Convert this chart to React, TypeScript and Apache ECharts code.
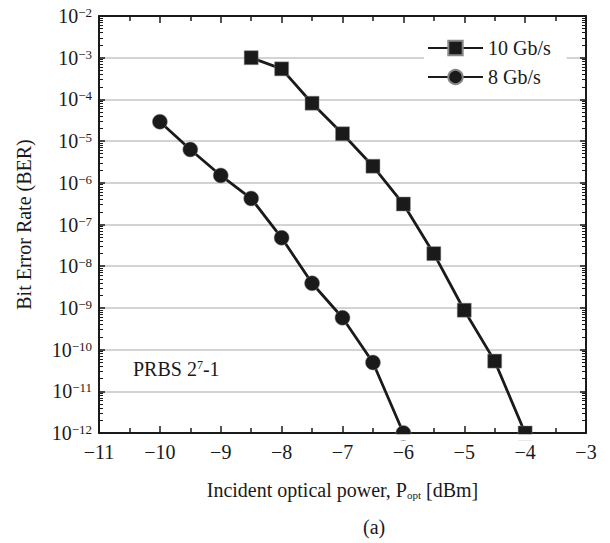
import React, { useEffect, useRef } from "react";
import * as echarts from "echarts";

const power10 = [-8.5, -8, -7.5, -7, -6.5, -6, -5.5, -5, -4.5, -4];
const ber10 = [1e-3, 5.4e-4, 8.1e-5, 1.5e-5, 2.5e-6, 3.1e-7, 2.0e-8, 8.8e-10, 5.3e-11, 1e-12];
const power8 = [-10, -9.5, -9, -8.5, -8, -7.5, -7, -6.5, -6];
const ber8 = [2.9e-5, 6.3e-6, 1.5e-6, 4.2e-7, 4.8e-8, 3.9e-9, 5.8e-10, 4.9e-11, 1e-12];
const seriesNames = ["10 Gb/s", "8 Gb/s"];

const FONT = "'Liberation Serif', 'Times New Roman', serif";

export default function App() {
  const ref = useRef<HTMLDivElement>(null);
  useEffect(() => {
    if (!ref.current) return;
    const chart = echarts.init(ref.current, null, { renderer: "svg" });
    const minus = (v: number) => (v < 0 ? "\u2212" + Math.abs(v) : String(v));
    const axisLine = { show: true, lineStyle: { color: "#1a1a1a", width: 2 } };
    const xCommon = {
      type: "value",
      min: -11,
      max: -3,
      interval: 1,
      axisLine,
      splitLine: { show: false },
    };
    const yCommon = {
      type: "log",
      logBase: 10,
      min: 1e-12,
      max: 1e-2,
      splitNumber: 10,
      axisLine,
    };
    chart.setOption({
      animation: false,
      backgroundColor: "#ffffff",
      grid: { left: 99, top: 16, right: 24, bottom: 110, containLabel: false },
      legend: {
        orient: "vertical",
        left: 424,
        top: 32,
        padding: [6, 16, 6, 3],
        itemGap: 9,
        itemWidth: 55,
        itemHeight: 18,
        backgroundColor: "#ffffff",
        data: seriesNames,
        textStyle: { fontFamily: FONT, fontSize: 20, color: "#1a1a1a" },
      },
      xAxis: [
        {
          ...xCommon,
          position: "bottom",
          name: "Incident optical power, P{sub|opt} [dBm]",
          nameLocation: "middle",
          nameGap: 47,
          nameTextStyle: {
            fontFamily: FONT,
            fontSize: 20,
            color: "#1a1a1a",
            rich: {
              sub: { fontFamily: FONT, fontSize: 11, verticalAlign: "bottom", color: "#1a1a1a" },
            },
          },
          axisTick: { show: true, inside: true, length: 7, lineStyle: { color: "#1a1a1a", width: 1.5 } },
          minorTick: { show: true, splitNumber: 2, length: 5, lineStyle: { color: "#1a1a1a", width: 1.5 } },
          axisLabel: {
            margin: 9,
            fontFamily: FONT,
            fontSize: 20,
            color: "#1a1a1a",
            formatter: (v: number) => minus(v),
          },
        },
        {
          ...xCommon,
          position: "top",
          axisTick: { show: true, inside: true, length: 7, lineStyle: { color: "#1a1a1a", width: 1.5 } },
          minorTick: { show: true, splitNumber: 2, length: 5, lineStyle: { color: "#1a1a1a", width: 1.5 } },
          axisLabel: { show: false },
        },
      ],
      yAxis: [
        {
          ...yCommon,
          position: "left",
          name: "Bit Error Rate (BER)",
          nameLocation: "middle",
          nameGap: 65,
          nameTextStyle: { fontFamily: FONT, fontSize: 20, color: "#1a1a1a" },
          splitLine: { show: true, lineStyle: { color: "#c4c4c4", width: 1.5 } },
          axisTick: { show: true, inside: true, length: 6, lineStyle: { color: "#1a1a1a", width: 1.5 } },
          minorTick: { show: true, splitNumber: 9, length: 4, lineStyle: { color: "#1a1a1a", width: 1 } },
          axisLabel: {
            margin: 7,
            color: "#1a1a1a",
            formatter: (v: number) => {
              const e = Math.round(Math.log10(v));
              return "{b|10}{s|" + minus(e) + "}";
            },
            rich: {
              b: { fontFamily: FONT, fontSize: 20, color: "#1a1a1a", lineHeight: 20 },
              s: { fontFamily: FONT, fontSize: 13, color: "#1a1a1a", verticalAlign: "top", lineHeight: 13 },
            },
          },
        },
        {
          ...yCommon,
          position: "right",
          splitLine: { show: false },
          axisTick: { show: true, inside: true, length: 6, lineStyle: { color: "#1a1a1a", width: 1.5 } },
          minorTick: { show: true, splitNumber: 9, length: 4, lineStyle: { color: "#1a1a1a", width: 1 } },
          axisLabel: { show: false },
        },
      ],
      graphic: [
        {
          type: "rect",
          z: 10,
          shape: { x: 92, y: 434.2, width: 500, height: 6 },
          style: { fill: "#ffffff" },
        },
        {
          type: "text",
          left: 133,
          top: 359,
          style: {
            text: "PRBS 2{s|7}-1",
            font: "20px " + FONT,
            fill: "#1a1a1a",
            rich: {
              s: { fontFamily: FONT, fontSize: 12, verticalAlign: "top", fill: "#1a1a1a" },
            },
          },
        },
        {
          type: "text",
          left: 363,
          top: 517,
          style: { text: "(a)", font: "20px " + FONT, fill: "#1a1a1a" },
        },
      ],
      series: [
        {
          name: seriesNames[0],
          type: "line",
          xAxisIndex: 0,
          yAxisIndex: 0,
          data: power10.map((x, i) => [x, ber10[i]]),
          symbol: "rect",
          symbolSize: 14,
          lineStyle: { color: "#1a1a1a", width: 2.8 },
          itemStyle: { color: "#1a1a1a", borderColor: "#888", borderWidth: 0.5 },
        },
        {
          name: seriesNames[1],
          type: "line",
          xAxisIndex: 0,
          yAxisIndex: 0,
          data: power8.map((x, i) => [x, ber8[i]]),
          symbol: "circle",
          symbolSize: 15,
          lineStyle: { color: "#1a1a1a", width: 2.8 },
          itemStyle: { color: "#1a1a1a", borderColor: "#888", borderWidth: 0.5 },
        },
      ],
    });
    return () => chart.dispose();
  }, []);
  return (
    <div
      ref={ref}
      style={{ position: "fixed", left: 0, top: 0, width: 610, height: 543 }}
    />
  );
}
